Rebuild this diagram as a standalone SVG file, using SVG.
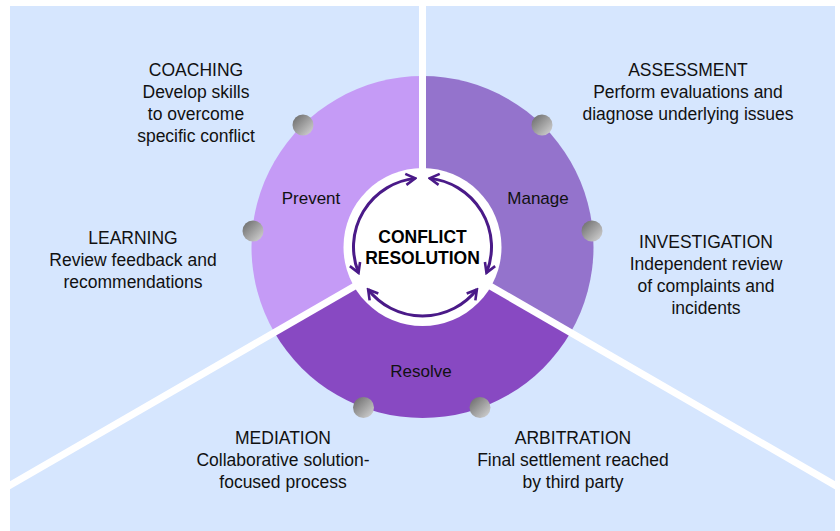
<svg xmlns="http://www.w3.org/2000/svg" width="840" height="531" viewBox="0 0 840 531">
<style>
.lbl{font-family:"Liberation Sans",Arial,sans-serif;font-size:17.5px;fill:#111;text-anchor:middle}
.sec{font-family:"Liberation Sans",Arial,sans-serif;font-size:17px;fill:#111;text-anchor:middle}
.ctr{font-family:"Liberation Sans",Arial,sans-serif;font-size:17.5px;font-weight:bold;fill:#000;text-anchor:middle}
.div{stroke:#fff;stroke-width:7;fill:none}
.arc{stroke:#4a1a88;stroke-width:3;fill:none;marker-start:url(#chev);marker-end:url(#chev)}
.dot{fill:url(#dotg)}
</style>
<defs>
<linearGradient id="dotg" x1="0" y1="0" x2="1" y2="1">
<stop offset="0" stop-color="#666"/>
<stop offset="1" stop-color="#d8d8d8"/>
</linearGradient>
<marker id="chev" viewBox="0 0 14 14" refX="12" refY="7" markerWidth="14" markerHeight="14" markerUnits="userSpaceOnUse" orient="auto-start-reverse">
<path d="M2.5,1.5 L12,7 L2.5,12.5" fill="none" stroke="#4a1a88" stroke-width="2.6" stroke-linejoin="miter"/>
</marker>
</defs>
<rect width="840" height="531" fill="#fff"/>
<rect x="10" y="6" width="825" height="525" fill="#d6e6fe"/>
<g id="sectors">
<path id="prevent-sector" d="M422.5,247 L422.5,76 A171,171 0 0 0 274.41,332.5 Z" fill="#c59bf6"/>
<path id="manage-sector" d="M422.5,247 L422.5,76 A171,171 0 0 1 570.59,332.5 Z" fill="#9473cc"/>
<path id="resolve-sector" d="M422.5,247 L570.59,332.5 A171,171 0 0 1 274.41,332.5 Z" fill="#8849c2"/>
</g>
<g id="dividers">
<line class="div" x1="422.5" y1="0" x2="422.5" y2="247"/>
<line class="div" x1="422.5" y1="247" x2="0" y2="491"/>
<line class="div" x1="422.5" y1="247" x2="845" y2="491"/>
</g>
<g id="center">
<circle cx="422.5" cy="247" r="79" fill="#fff"/>
<text class="ctr" x="422.5" y="243">CONFLICT</text>
<text class="ctr" x="422.5" y="264">RESOLUTION</text>
</g>
<g id="connectors">
<path class="arc" d="M429.71,178.38 A69,69 0 0 1 486.48,272.85"/>
<path class="arc" d="M476.87,289.48 A69,69 0 0 1 368.13,289.48"/>
<path class="arc" d="M358.52,272.85 A69,69 0 0 1 415.29,178.38"/>
</g>
<g id="prevent"><text class="sec" x="311" y="204">Prevent</text></g>
<g id="manage"><text class="sec" x="538" y="204">Manage</text></g>
<g id="resolve"><text class="sec" x="421" y="377">Resolve</text></g>
<g id="coaching">
<circle class="dot" cx="303" cy="125" r="10.5"/>
<text class="lbl" x="196" y="76">COACHING</text>
<text class="lbl" x="196" y="98">Develop skills</text>
<text class="lbl" x="196" y="120">to overcome</text>
<text class="lbl" x="196" y="142">specific conflict</text>
</g>
<g id="assessment">
<circle class="dot" cx="542" cy="125" r="10.5"/>
<text class="lbl" x="688" y="76">ASSESSMENT</text>
<text class="lbl" x="688" y="98">Perform evaluations and</text>
<text class="lbl" x="688" y="120">diagnose underlying issues</text>
</g>
<g id="learning">
<circle class="dot" cx="253" cy="231" r="10.5"/>
<text class="lbl" x="133" y="244">LEARNING</text>
<text class="lbl" x="133" y="266">Review feedback and</text>
<text class="lbl" x="133" y="288">recommendations</text>
</g>
<g id="investigation">
<circle class="dot" cx="592" cy="231" r="10.5"/>
<text class="lbl" x="706" y="248">INVESTIGATION</text>
<text class="lbl" x="706" y="270">Independent review</text>
<text class="lbl" x="706" y="292">of complaints and</text>
<text class="lbl" x="706" y="314">incidents</text>
</g>
<g id="mediation">
<circle class="dot" cx="363.5" cy="407.5" r="10.5"/>
<text class="lbl" x="283" y="444">MEDIATION</text>
<text class="lbl" x="283" y="466">Collaborative solution-</text>
<text class="lbl" x="283" y="488">focused process</text>
</g>
<g id="arbitration">
<circle class="dot" cx="480" cy="407.5" r="10.5"/>
<text class="lbl" x="573" y="444">ARBITRATION</text>
<text class="lbl" x="573" y="466">Final settlement reached</text>
<text class="lbl" x="573" y="488">by third party</text>
</g>
</svg>
